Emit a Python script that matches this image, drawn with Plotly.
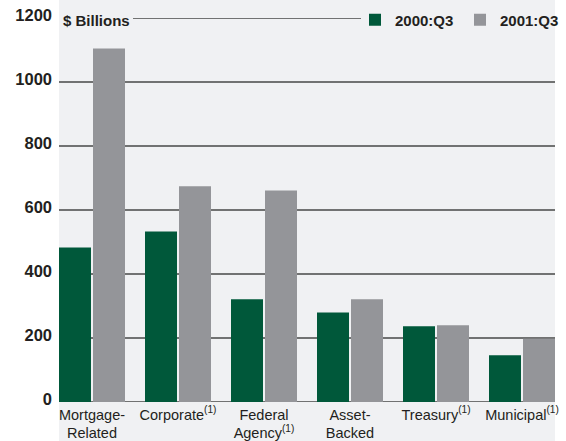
import plotly.graph_objects as go

# Outstanding U.S. bond market debt by sector, $ billions
categories = [
    "Mortgage-<br>Related",
    "Corporate<sup>(1)</sup>",
    "Federal<br>Agency<sup>(1)</sup>",
    "Asset-<br>Backed",
    "Treasury<sup>(1)</sup>",
    "Municipal<sup>(1)</sup>",
]
q3_2000 = [483, 533, 321, 280, 237, 146]
q3_2001 = [1105, 674, 661, 321, 240, 198]
series_names = ["2000:Q3", "2001:Q3"]
y_ticks = [0, 200, 400, 600, 800, 1000, 1200]

GREEN = "#00583a"
GRAY = "#949599"
PANEL = "#f0f1f3"
GRID = "#474747"
TEXT = "#231f20"
FONT = "Liberation Sans, Arial, sans-serif"

# category spacing is 86 px; each bar 32 px with a 2 px gap in the pair
SLOT = 86.0
bar_w = 32 / SLOT

fig = go.Figure()
fig.add_trace(go.Bar(
    x=categories, y=q3_2000, name=series_names[0],
    marker=dict(color=GREEN, line=dict(width=0)),
    width=bar_w, offset=-33 / SLOT,
))
fig.add_trace(go.Bar(
    x=categories, y=q3_2001, name=series_names[1],
    marker=dict(color=GRAY, line=dict(width=0)),
    width=bar_w, offset=1 / SLOT,
))

shapes = [
    # light panel behind the chart
    dict(type="rect", xref="paper", yref="paper", x0=0, x1=1, y0=-0.2, y1=1.1,
         fillcolor=PANEL, line=dict(width=0), layer="below"),
]
# horizontal rules at each value tick; the top one runs between title and legend
for v in y_ticks[:-1]:
    shapes.append(dict(type="line", xref="paper", yref="y", x0=0, x1=1, y0=v, y1=v,
                       line=dict(color=GRID, width=1.4), layer="below"))
shapes.append(dict(type="line", xref="paper", yref="y", x0=(133 - 59) / 496,
                   x1=(361 - 59) / 496, y0=y_ticks[-1], y1=y_ticks[-1],
                   line=dict(color=GRID, width=1.4), layer="below"))

fig.update_layout(
    width=566, height=441,
    margin=dict(l=59, r=11, t=18, b=39, pad=0, autoexpand=False),
    paper_bgcolor="white", plot_bgcolor=PANEL,
    barmode="group",
    font=dict(family=FONT, color=TEXT, size=15),
    shapes=shapes,
    showlegend=True,
    legend=dict(
        orientation="h", x=(355 - 59) / 496, xanchor="left",
        y=1 - 2 / 384, yanchor="middle", yref="paper",
        bgcolor="rgba(0,0,0,0)", borderwidth=0,
        font=dict(family=FONT, size=15, color=TEXT, weight="bold"),
        itemwidth=30, entrywidth=60, traceorder="normal",
    ),
    annotations=[
        dict(text="$ Billions", xref="paper", yref="y", x=(61 - 59) / 496, y=y_ticks[-1],
             xanchor="left", yanchor="middle", yshift=-2, showarrow=False,
             font=dict(family=FONT, size=15, color=TEXT, weight="bold")),
    ],
)
fig.update_xaxes(
    range=[-33 / SLOT, 5 + 33 / SLOT], showgrid=False, zeroline=False,
    showline=False, ticks="", ticklabelstandoff=2, automargin=False,
    tickfont=dict(family=FONT, size=14.5, color=TEXT),
)
fig.update_yaxes(
    range=[0, 1200], tickvals=y_ticks, showgrid=False, zeroline=False,
    showline=False, ticks="", ticklabelstandoff=6, ticklabelshift=-3,
    automargin=False,
    tickfont=dict(family=FONT, size=16.5, color=TEXT, weight="bold"),
)

fig.write_html("out.html")
